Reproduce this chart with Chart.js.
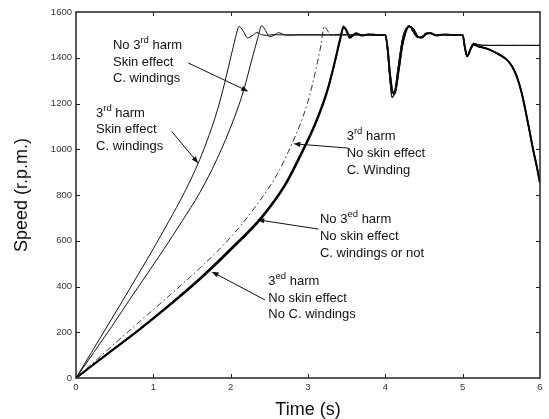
<!DOCTYPE html>
<html lang="en">
<head>
<meta charset="UTF-8">
<title>Speed vs time</title>
<script src="https://cdn.jsdelivr.net/npm/chart.js"></script>
<style>
  body { margin: 0; background: #fff; }
  #wrap { width: 549px; height: 419px; }
</style>
</head>
<body>
<div id="wrap"><canvas id="speedChart" width="549" height="419"></canvas></div>
<script>
// axis ticks
const timeTicks = [0, 1, 2, 3, 4, 5, 6];
const speedTicks = [0, 200, 400, 600, 800, 1000, 1200, 1400, 1600];

// start-up of each case (time in s, speed in rpm)
const tA = [0, 0.2, 0.4, 0.6, 0.8, 1.0, 1.2, 1.4, 1.6, 1.8, 1.9, 2.0, 2.06, 2.11, 2.16, 2.22, 2.28, 2.34, 2.40, 2.46, 2.55, 2.7];
const vA = [0, 112, 224, 336, 450, 565, 685, 810, 955, 1140, 1260, 1400, 1485, 1537, 1518, 1487, 1497, 1510, 1501, 1498, 1501, 1500];

const tB = [0, 0.23, 0.46, 0.68, 0.91, 1.14, 1.37, 1.6, 1.82, 2.05, 2.17, 2.28, 2.35, 2.40, 2.45, 2.50, 2.56, 2.62, 2.68, 2.75, 2.85];
const vB = [0, 112, 224, 336, 450, 565, 685, 810, 955, 1140, 1260, 1400, 1485, 1540, 1520, 1492, 1498, 1510, 1502, 1498, 1500];

const tC = [0, 0.4, 0.8, 1.2, 1.6, 2.0, 2.3, 2.6, 2.8, 2.9, 3.0, 3.1, 3.17, 3.21, 3.26, 3.32, 3.4, 3.5];
const vC = [0, 120, 240, 358, 480, 615, 740, 890, 1030, 1110, 1210, 1345, 1460, 1537, 1515, 1495, 1503, 1500];

const tD = [0, 0.4, 0.8, 1.2, 1.6, 2.0, 2.4, 2.7, 2.9, 3.1, 3.25, 3.35, 3.42, 3.46, 3.50, 3.54, 3.62, 3.70, 3.78, 3.9];
const vD = [0, 105, 208, 318, 435, 565, 705, 845, 975, 1120, 1260, 1390, 1490, 1537, 1515, 1487, 1507, 1497, 1502, 1500];
const vE = [0, 103, 205, 314, 430, 559, 699, 839, 968, 1113, 1253, 1383, 1484, 1533, 1519, 1490, 1505, 1498, 1501, 1500];

// load steps at 4 s and 5 s
const tDip = [4.0, 4.03, 4.06, 4.09, 4.12, 4.17, 4.22, 4.27, 4.31, 4.36, 4.42, 4.47, 4.53, 4.58, 4.66, 4.75, 4.85, 5.0, 5.03, 5.06, 5.10, 5.14, 5.2];
const vDipThin  = [1500, 1420, 1300, 1226, 1250, 1370, 1480, 1530, 1540, 1512, 1488, 1492, 1508, 1506, 1497, 1501, 1500, 1500, 1440, 1408, 1440, 1463, 1457];
const vDipThick = [1500, 1440, 1330, 1255, 1243, 1340, 1455, 1520, 1537, 1525, 1492, 1488, 1505, 1508, 1498, 1501, 1500, 1500, 1442, 1406, 1436, 1458, 1450];

const tEndThin = [5.3, 6.0];
const vEndThin = [1454, 1454];
const tEndThick = [5.28, 5.35, 5.45, 5.57, 5.64, 5.70, 5.76, 5.81, 5.86, 5.91, 5.96, 6.0];
const vEndThick = [1443, 1435, 1418, 1392, 1362, 1318, 1250, 1173, 1088, 1000, 922, 852];

// text notes: pieces alternate normal / superscript
const noteLines = [
  [['No 3', 'rd', ' harm'], ['Skin effect'], ['C. windings']],
  [['3', 'rd', ' harm'], ['Skin effect'], ['C. windings']],
  [['3', 'rd', ' harm'], ['No skin effect'], ['C. Winding']],
  [['No 3', 'ed', ' harm'], ['No skin effect'], ['C. windings or not']],
  [['3', 'ed', ' harm'], ['No skin effect'], ['No C. windings']]
];
const noteAt = [[0.478, 1438], [0.259, 1143], [3.50, 1040], [3.155, 677], [2.487, 407]];
const arrowFrom = [[1.452, 1377], [1.237, 1078], [3.521, 1005], [3.134, 651], [2.444, 341]];
const arrowTo = [[2.228, 1253], [1.581, 939], [2.810, 1024], [2.344, 692], [1.754, 465]];

function pts(ts, vs) {
  return ts.map((t, i) => ({ x: t, y: vs[i] }));
}

const FONT = '"Liberation Sans", Arial, Helvetica, sans-serif';

const thinTail = pts(tDip, vDipThin).concat(pts(tEndThin, vEndThin));
const thickTail = pts(tDip, vDipThick).concat(pts(tEndThick, vEndThick));

const datasets = [
  { data: pts(tA, vA).concat(thinTail), borderColor: '#111', borderWidth: 1 },
  { data: pts(tB, vB).concat(thinTail), borderColor: '#111', borderWidth: 1 },
  { data: pts(tC, vC).concat(thinTail), borderColor: '#333', borderWidth: 1, borderDash: [6, 3, 1.5, 3] },
  { data: pts(tD, vD).concat(thickTail), borderColor: '#000', borderWidth: 1.8 },
  { data: pts(tD, vE).concat(thickTail), borderColor: '#000', borderWidth: 1.8 }
];

const framePlugin = {
  id: 'frame',
  afterDatasetsDraw(chart) {
    const { ctx, chartArea: a, scales: { x, y } } = chart;
    ctx.save();
    ctx.strokeStyle = '#222';
    ctx.lineWidth = 1.5;
    ctx.strokeRect(a.left, a.top, a.right - a.left, a.bottom - a.top);

    // inward ticks on all four sides
    ctx.lineWidth = 1;
    ctx.beginPath();
    timeTicks.slice(1, -1).forEach(t => {
      const px = Math.round(x.getPixelForValue(t)) + 0.5;
      ctx.moveTo(px, a.bottom); ctx.lineTo(px, a.bottom - 4);
      ctx.moveTo(px, a.top); ctx.lineTo(px, a.top + 4);
    });
    speedTicks.slice(1, -1).forEach(v => {
      const py = Math.round(y.getPixelForValue(v)) + 0.5;
      ctx.moveTo(a.left, py); ctx.lineTo(a.left + 4, py);
      ctx.moveTo(a.right, py); ctx.lineTo(a.right - 4, py);
    });
    ctx.stroke();

    // notes
    ctx.fillStyle = '#111';
    ctx.textBaseline = 'alphabetic';
    ctx.textAlign = 'left';
    noteLines.forEach((lines, n) => {
      const x0 = x.getPixelForValue(noteAt[n][0]);
      let y0 = y.getPixelForValue(noteAt[n][1]);
      lines.forEach(pieces => {
        let cx = x0;
        pieces.forEach((s, k) => {
          const sup = k % 2 === 1;
          ctx.font = (sup ? '9.5px ' : '13px ') + FONT;
          ctx.fillText(s, cx, sup ? y0 - 6 : y0);
          cx += ctx.measureText(s).width;
        });
        y0 += 16.7;
      });
    });

    // arrows
    ctx.strokeStyle = '#111';
    ctx.lineWidth = 1;
    arrowFrom.forEach((f, n) => {
      const x1 = x.getPixelForValue(f[0]), y1 = y.getPixelForValue(f[1]);
      const x2 = x.getPixelForValue(arrowTo[n][0]), y2 = y.getPixelForValue(arrowTo[n][1]);
      const ang = Math.atan2(y2 - y1, x2 - x1);
      ctx.beginPath();
      ctx.moveTo(x1, y1);
      ctx.lineTo(x2 - 5 * Math.cos(ang), y2 - 5 * Math.sin(ang));
      ctx.stroke();
      ctx.beginPath();
      ctx.moveTo(x2, y2);
      ctx.lineTo(x2 - 7 * Math.cos(ang) + 2.6 * Math.sin(ang), y2 - 7 * Math.sin(ang) - 2.6 * Math.cos(ang));
      ctx.lineTo(x2 - 7 * Math.cos(ang) - 2.6 * Math.sin(ang), y2 - 7 * Math.sin(ang) + 2.6 * Math.cos(ang));
      ctx.closePath();
      ctx.fill();
    });
    ctx.restore();
  }
};

new Chart(document.getElementById('speedChart'), {
  type: 'line',
  data: { datasets },
  options: {
    responsive: false,
    animation: false,
    layout: { padding: { top: 12, right: 9, left: 0, bottom: 0 } },
    elements: {
      point: { radius: 0 },
      line: { cubicInterpolationMode: 'monotone', borderCapStyle: 'butt' }
    },
    plugins: { legend: { display: false }, tooltip: { enabled: false } },
    scales: {
      x: {
        type: 'linear',
        min: timeTicks[0],
        max: timeTicks[timeTicks.length - 1],
        afterBuildTicks: s => { s.ticks = timeTicks.map(v => ({ value: v })); },
        afterFit: s => { s.height = 41; },
        grid: { display: false, drawTicks: false },
        border: { display: false },
        ticks: { padding: 4, color: '#333', font: { family: FONT, size: 9.5 }, maxRotation: 0, callback: v => String(v) },
        title: { display: true, text: 'Time (s)', color: '#111', font: { family: FONT, size: 18, lineHeight: 1 }, padding: { top: 0, bottom: 0 } }
      },
      y: {
        type: 'linear',
        min: speedTicks[0],
        max: speedTicks[speedTicks.length - 1],
        afterBuildTicks: s => { s.ticks = speedTicks.map(v => ({ value: v })); },
        afterFit: s => { s.width = 76; },
        grid: { display: false, drawTicks: false },
        border: { display: false },
        ticks: { padding: 4, color: '#333', font: { family: FONT, size: 9.5 }, callback: v => String(v) },
        title: { display: true, text: 'Speed (r.p.m.)', color: '#111', font: { family: FONT, size: 18, lineHeight: 1 }, padding: { top: 13, bottom: 0 } }
      }
    }
  },
  plugins: [framePlugin]
});
</script>
</body>
</html>
